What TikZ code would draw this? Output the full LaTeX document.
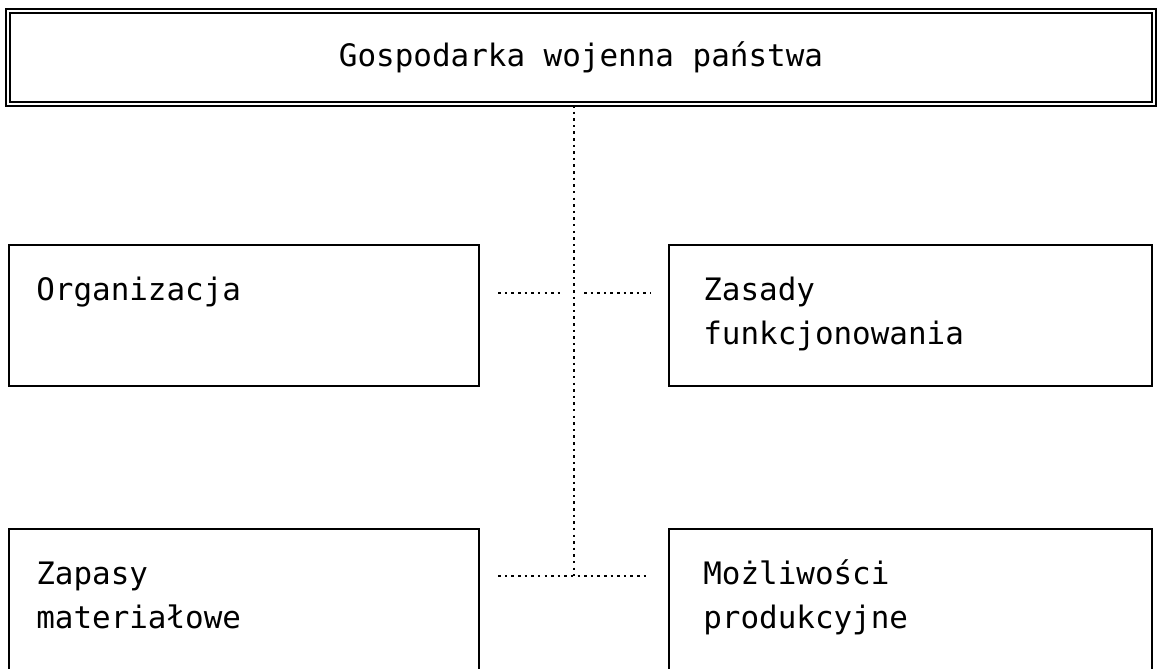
\documentclass[tikz,border=0pt]{standalone}
\usepackage{fontspec}
\setmonofont{DejaVu Sans Mono}

\begin{document}
\begin{tikzpicture}[box/.style={shape=rectangle,draw=black,line width=1.8pt,inner sep=0pt},boxG/.style={box,double,line width=1.3pt,double distance=1.8pt},txt/.style={anchor=base west,align=left,inner sep=0pt,font=\ttfamily\fontsize{22}{31.3}\selectfont},link/.style={line width=1.8pt,dash pattern=on 1.8pt off 2.9pt}]
\def\wl{11.75cm};
\def\wr{12.075cm};
\def\hb{3.525cm};

\useasboundingbox (0,0) rectangle (29,-16.7);

\node[boxG,minimum width=28.65cm,minimum height=2.33cm,font=\ttfamily\fontsize{22}{31.3}\selectfont] (gosp) at (14.525,-1.4375) {Gospodarka wojenna państwa};

\node[box,minimum width=\wl,minimum height=\hb] (org) at (6.1,-7.8875) {};
\node[txt] (orgT) at (0.9,-7.5) {Organizacja};
\node[box,minimum width=\wr,minimum height=\hb] (zas) at (22.7625,-7.8875) {};
\node[txt] (zasT) at (17.575,-8.6) {Zasady\\funkcjonowania};

\node[box,minimum width=\wl,minimum height=5cm] (zap) at (6.1,-15.725) {};
\node[txt] (zapT) at (0.9,-15.7) {Zapasy\\materiałowe};
\node[box,minimum width=\wr,minimum height=5cm] (moz) at (22.7625,-15.725) {};
\node[txt] (mozT) at (17.575,-15.7) {Możliwości\\produkcyjne};

\coordinate (jM) at (14.35,-7.325);
\coordinate (jB) at (14.35,-14.4);
\draw[link] (gosp.south -| jB) -- (jB);
\draw[link,shorten <=0.45cm,shorten >=0.3cm] (org.east |- jM) -- (jM);
\draw[link,shorten <=0.25cm,shorten >=0.425cm] (jM) -- (zas.west |- jM);
\draw[link,shorten <=0.45cm,shorten >=0.475cm] (zap.east |- jB) -- (moz.west |- jB);
\end{tikzpicture}
\end{document}
